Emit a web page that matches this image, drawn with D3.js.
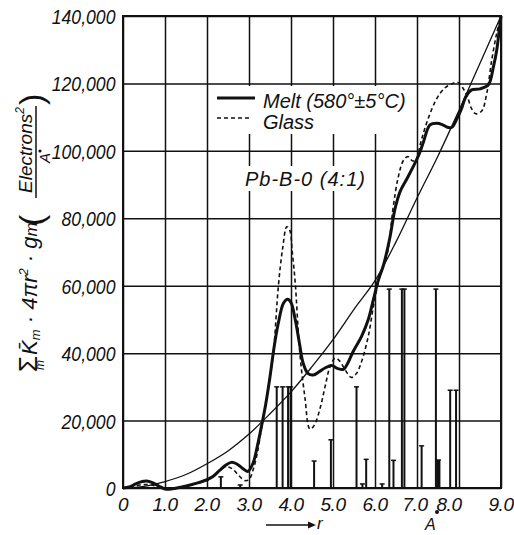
<!DOCTYPE html>
<html>
<head>
<meta charset="utf-8">
<script src="https://cdnjs.cloudflare.com/ajax/libs/d3/7.8.5/d3.min.js"></script>
<style>
body { margin: 0; background: #fff; }
svg text { font-family: "Liberation Sans", Arial, sans-serif; font-style: italic; fill: #111; }
</style>
</head>
<body>
<div id="chart"></div>
<script>
// axis ticks
var xTicks = [0, 1, 2, 3, 4, 5, 6, 7, 8, 9];
var xTickLabels = ["0", "1.0", "2.0", "3.0", "4.0", "5.0", "6.0", "7.0", "8.0", "9.0"];
var yTicks = [0, 20000, 40000, 60000, 80000, 100000, 120000, 140000];
var yTickLabels = ["0", "20,000", "40,000", "60,000", "80,000", "100,000", "120,000", "140,000"];

// melt (580°±5°C), solid heavy
var meltR = [0, 0.15, 0.3, 0.45, 0.56, 0.7, 0.85, 1.0, 1.1, 1.25, 1.4, 1.6, 1.8, 2.0, 2.15, 2.3, 2.45, 2.58, 2.7, 2.85, 2.97,
  3.1, 3.2, 3.3, 3.4, 3.5, 3.6, 3.7, 3.82, 3.92, 4.0, 4.1, 4.2, 4.29, 4.4, 4.53, 4.67, 4.81, 4.97, 5.1, 5.25, 5.35, 5.48,
  5.68, 5.84, 5.96, 6.08, 6.2, 6.35, 6.48, 6.6, 6.75, 6.91, 7.05, 7.15, 7.31, 7.47, 7.6, 7.72, 7.83, 7.95, 8.06, 8.16, 8.3,
  8.5, 8.7, 8.82, 8.9, 8.95, 9.0];
var meltV = [0, 300, 1200, 1900, 2100, 1600, 600, -300, -400, -100, 300, 900, 1600, 2500, 3500, 5200, 6800, 7600, 7200, 5800, 4900,
  7500, 12500, 18500, 25000, 33000, 42000, 49000, 54800, 56000, 55000, 50000, 43000, 37000, 34000, 33500, 34500, 35600, 36300, 35500, 35200, 37000, 40500,
  45000, 50000, 55800, 61700, 66000, 74000, 83000, 88000, 91500, 95300, 99000, 102500, 107700, 108200, 107800, 107000, 107000, 109500, 112500, 116000, 118100,
  118400, 119600, 125000, 130000, 135000, 140000];

// glass, dashed
var glassR = [0, 0.2, 0.4, 0.6, 0.8, 1.0, 1.2, 1.4, 1.6, 1.8, 2.0, 2.15, 2.3, 2.45, 2.6, 2.75, 2.9, 3.0, 3.1, 3.2, 3.3, 3.4, 3.5,
  3.58, 3.7, 3.8, 3.9, 3.97, 4.03, 4.1, 4.21, 4.33, 4.45, 4.55, 4.7, 4.81, 4.93, 5.05, 5.15, 5.29, 5.44, 5.56, 5.68, 5.84,
  5.96, 6.04, 6.12, 6.3, 6.43, 6.55, 6.67, 6.78, 6.9, 6.98, 7.1, 7.25, 7.47, 7.65, 7.8, 7.98, 8.1, 8.2, 8.3, 8.4, 8.54,
  8.66, 8.78, 8.9, 9.0];
var glassV = [0, 300, 900, 1000, 500, -200, -300, 200, 900, 1500, 2200, 3500, 5300, 6300, 5700, 3800, 2200, 2500, 5500, 10500, 18000, 25000, 33000,
  40000, 60000, 71000, 77500, 76500, 70000, 61000, 40000, 27000, 17500, 18500, 24000, 30000, 36000, 38500, 37800, 35000, 32800, 34000, 37500, 45000,
  53800, 58800, 63000, 70000, 83000, 92000, 97000, 98300, 97000, 97500, 103000, 109000, 115500, 118500, 119700, 120300, 118500, 116000, 112500, 111000, 111800,
  117000, 127000, 135000, 140000];

// smooth thin reference curve
var avgR = [0, 0.5, 1.0, 1.5, 2.0, 2.5, 3.0, 3.5, 4.0, 4.5, 5.0, 5.5, 6.0, 6.5, 7.0, 7.5, 8.0, 8.5, 9.0];
var avgV = [0, 500, 1900, 4000, 7200, 11000, 16000, 22000, 28500, 36000, 44000, 53000, 61500, 73000, 86000, 98500, 112000, 126000, 140000];

// vertical lines (interatomic distances)
var barR = [2.33, 2.79, 3.66, 3.8, 3.93, 3.99, 4.55, 4.95, 5.56, 5.7, 5.79, 6.17, 6.34, 6.44, 6.64, 6.7, 7.11, 7.45, 7.51, 7.79, 7.93];
var barV = [3300, 900, 30000, 30000, 30000, 30000, 8000, 14300, 30000, 1200, 8500, 1200, 59000, 8200, 59000, 59000, 12500, 59000, 8300, 29000, 29000];

var W = 514, H = 535;
var svg = d3.select("#chart").append("svg").attr("width", W).attr("height", H);

var x = d3.scaleLinear().domain([0, 9]).range([123, 501]);
var y = d3.scaleLinear().domain([0, 140000]).range([488, 16]);

// grid through axes
var gx = svg.append("g").attr("transform", "translate(0,488)")
  .call(d3.axisBottom(x).tickValues(xTicks).tickSize(-472).tickFormat(""));
var gy = svg.append("g").attr("transform", "translate(123,0)")
  .call(d3.axisLeft(y).tickValues(yTicks).tickSize(-378).tickPadding(8)
    .tickFormat(function(d, i){ return yTickLabels[i]; }));

[gx, gy].forEach(function(g){
  g.select(".domain").remove();
  g.selectAll(".tick line").attr("stroke", "#111").attr("stroke-width", 1.5);
});
gy.selectAll("text").attr("fill", "#111").attr("font-size", 21).attr("x", -9).attr("dy", "0.36em")
  .style("font-style", "italic").attr("transform", "scale(0.84,1)");

// x tick labels (8.0 sits a bit left to make room for the A mark)
svg.append("g").selectAll("text").data(xTicks).enter().append("text")
  .attr("x", function(d){ return x(d) + (d === 8 ? -10 : (d === 7 ? -2 : 0)); })
  .attr("y", 511)
  .attr("text-anchor", "middle")
  .attr("font-size", 19)
  .attr("letter-spacing", -0.5)
  .text(function(d, i){ return xTickLabels[i]; });

// legend / label backgrounds break the grid
svg.append("rect").attr("x", 213).attr("y", 86).attr("width", 198).attr("height", 48).attr("fill", "#fff");
svg.append("rect").attr("x", 240).attr("y", 166).attr("width", 132).attr("height", 25).attr("fill", "#fff");

// bars
var bars = svg.append("g").selectAll("g").data(d3.zip(barR, barV)).enter().append("g");
bars.append("line")
  .attr("x1", function(d){ return x(d[0]); }).attr("x2", function(d){ return x(d[0]); })
  .attr("y1", y(0)).attr("y2", function(d){ return y(d[1]); })
  .attr("stroke", "#111").attr("stroke-width", function(d){ return d[0] === 7.51 ? 4 : 2; });
bars.append("line")
  .attr("x1", function(d){ return x(d[0]) - 2.5; }).attr("x2", function(d){ return x(d[0]) + 2.5; })
  .attr("y1", function(d){ return y(d[1]); }).attr("y2", function(d){ return y(d[1]); })
  .attr("stroke", "#111").attr("stroke-width", 1.5);

var line = d3.line()
  .x(function(d){ return x(d[0]); })
  .y(function(d){ return y(d[1]); })
  .curve(d3.curveCatmullRom.alpha(0.5));

svg.append("path").datum(d3.zip(avgR, avgV)).attr("d", line)
  .attr("fill", "none").attr("stroke", "#111").attr("stroke-width", 1.3);
svg.append("path").datum(d3.zip(glassR, glassV)).attr("d", line)
  .attr("fill", "none").attr("stroke", "#111").attr("stroke-width", 1.6).attr("stroke-dasharray", "4,3");
svg.append("path").datum(d3.zip(meltR, meltV)).attr("d", line)
  .attr("fill", "none").attr("stroke", "#111").attr("stroke-width", 3);

// frame
svg.append("rect").attr("x", x(0)).attr("y", y(140000)).attr("width", x(9) - x(0)).attr("height", y(0) - y(140000))
  .attr("fill", "none").attr("stroke", "#111").attr("stroke-width", 2);

// legend
svg.append("line").attr("x1", 217).attr("x2", 255).attr("y1", 98).attr("y2", 98).attr("stroke", "#111").attr("stroke-width", 3);
svg.append("line").attr("x1", 217).attr("x2", 251).attr("y1", 118).attr("y2", 118).attr("stroke", "#111")
  .attr("stroke-width", 1.6).attr("stroke-dasharray", "4,3");
svg.append("text").attr("x", 263).attr("y", 108).attr("font-size", 20).text("Melt (580°±5°C)");
svg.append("text").attr("x", 263).attr("y", 129).attr("font-size", 20).text("Glass");
svg.append("text").attr("x", 245).attr("y", 186).attr("font-size", 20).attr("letter-spacing", 1).text("Pb-B-0 (4:1)");

// x axis name
svg.append("line").attr("x1", 266).attr("x2", 309).attr("y1", 525).attr("y2", 525).attr("stroke", "#111").attr("stroke-width", 1.5);
svg.append("path").attr("d", "M308,521.5L316,525L308,528.5Z").attr("fill", "#111");
svg.append("text").attr("x", 317).attr("y", 529).attr("font-size", 17).text("r");
svg.append("text").attr("x", 425).attr("y", 530).attr("font-size", 16).text("A");
svg.append("circle").attr("cx", 437).attr("cy", 512).attr("r", 2).attr("fill", "#111");

// y axis name, rotated
var t = svg.append("g").attr("transform", "translate(37,372) rotate(-90)");
var main = t.append("text").attr("x", 0).attr("y", 0).attr("font-size", 22);
main.append("tspan").attr("font-size", 26).style("font-style", "normal").text("Σ");
main.append("tspan").attr("font-size", 12).attr("dx", -14).attr("dy", 7).text("m");
main.append("tspan").attr("dx", 5).attr("dy", -7).text("K\u0304");
main.append("tspan").attr("font-size", 13).attr("dy", 3).text("m");
main.append("tspan").attr("dy", -3).text(" · 4πr");
main.append("tspan").attr("font-size", 13).attr("dy", -9).text("2");
main.append("tspan").attr("dy", 9).text(" · g");
main.append("tspan").attr("font-size", 17).text("m");
t.append("text").attr("x", 146).attr("y", 6).attr("font-size", 34).style("font-style", "normal").text("(");
var num = t.append("text").attr("x", 222).attr("y", -5).attr("font-size", 19).attr("text-anchor", "middle");
num.append("tspan").text("Electrons");
num.append("tspan").attr("font-size", 12).attr("dy", -8).text("2");
t.append("line").attr("x1", 174).attr("x2", 266).attr("y1", -1).attr("y2", -1).attr("stroke", "#111").attr("stroke-width", 1.5);
t.append("text").attr("x", 214).attr("y", 13).attr("font-size", 15).attr("text-anchor", "middle").text("A");
t.append("circle").attr("cx", 221).attr("cy", 3).attr("r", 1.6).attr("fill", "#111");
t.append("text").attr("x", 267).attr("y", 6).attr("font-size", 34).style("font-style", "normal").text(")");
</script>
</body>
</html>
